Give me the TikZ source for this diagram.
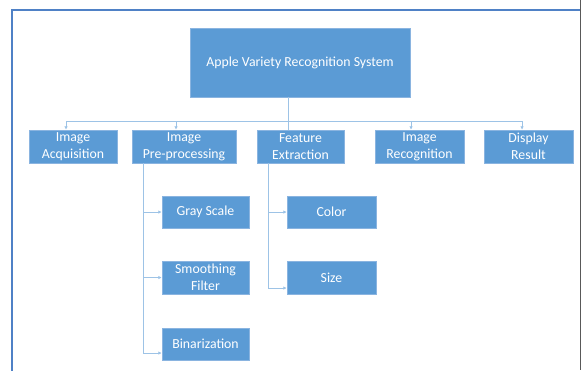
\documentclass[tikz,border=0pt]{standalone}
\usepackage{fontspec}
\setmainfont{Carlito}
\usetikzlibrary{arrows.meta,positioning}

\definecolor{boxblue}{HTML}{5B9BD5}
\definecolor{edgeblue}{HTML}{8AB4E0}
\definecolor{lineblue}{HTML}{9DC3E6}
\definecolor{frameblue}{HTML}{4F81C6}

\begin{document}
\begin{tikzpicture}[x=1bp,y=-1bp,
    box/.style={draw=edgeblue,fill=boxblue,text=white,align=center,inner sep=0pt,
        minimum height=33bp,font=\fontsize{13.8bp}{17bp}\selectfont},
    link/.style={-{Latex[length=3.5bp,width=3.5bp]},draw=lineblue,line width=0.9bp},
    plain/.style={draw=lineblue,line width=0.9bp}
  ]
  \useasboundingbox (0,0) rectangle (581,370);
  \draw[frameblue,line width=1.6bp] (12,380) -- (12,10) -- (600,10);
  \draw[gray!70!black,line width=0.8bp] (580.6,0) -- (580.6,370);

  % top node
  \node[box,minimum width=220bp,minimum height=69bp] (sys) at (300,62.5) {Apple Variety Recognition System};

  % second row
  \node[box,minimum width=88bp] (acq) at (73,146.5) {Image\\Acquisition};
  \node[box,minimum width=104bp] (pre) at (184,146.5) {Image\\Pre-processing};
  \node[box,minimum width=87bp] (feat) at (300.5,146.5) {Feature\\Extraction};
  \node[box,minimum width=89bp] (recog) at (419.5,146.5) {Image\\Recognition};
  \node[box,minimum width=89bp] (disp) at (528.5,146.5) {Display\\Result};

  % sub steps
  \node[box,minimum width=87bp,minimum height=32bp] (gray) at (205.5,212) {Gray Scale};
  \node[box,minimum width=87bp] (smooth) at (205.5,277.5) {Smoothing\\Filter};
  \node[box,minimum width=87bp,minimum height=32bp] (bin) at (205.5,344) {Binarization};
  \node[box,minimum width=89bp,minimum height=32bp] (color) at (331.5,212) {Color};
  \node[box,minimum width=89bp] (size) at (331.5,277.5) {Size};

  % bus under the top node
  \coordinate (bus) at ([xshift=-12.5bp]feat.north |- 0,121);
  \draw[plain] (sys.south -| bus) -- ([xshift=-12.5bp]feat.north);
  \draw[plain] ([xshift=-7bp]acq.north |- bus) -- ([xshift=-6.5bp]disp.north |- bus);
  \draw[link] ([xshift=-7bp]acq.north |- bus) -- ([xshift=-7bp]acq.north);
  \draw[link] ([xshift=-8bp]pre.north |- bus) -- ([xshift=-8bp]pre.north);
  \draw[link] ([xshift=-8.5bp]recog.north |- bus) -- ([xshift=-8.5bp]recog.north);
  \draw[link] ([xshift=-6.5bp]disp.north |- bus) -- ([xshift=-6.5bp]disp.north);

  % pre-processing branch
  \coordinate (ptr) at ([xshift=-41bp]pre.south);
  \draw[link] (ptr) |- ([yshift=-9bp]bin.west);
  \draw[link] (ptr |- gray.west) -- (gray.west);
  \draw[link] (ptr |- smooth.west) -- (smooth.west);

  % feature branch
  \coordinate (ftr) at ([xshift=-32.5bp]feat.south);
  \draw[link] (ftr) |- ([yshift=-10.5bp]size.west);
  \draw[link] (ftr |- color.west) -- (color.west);
\end{tikzpicture}
\end{document}
